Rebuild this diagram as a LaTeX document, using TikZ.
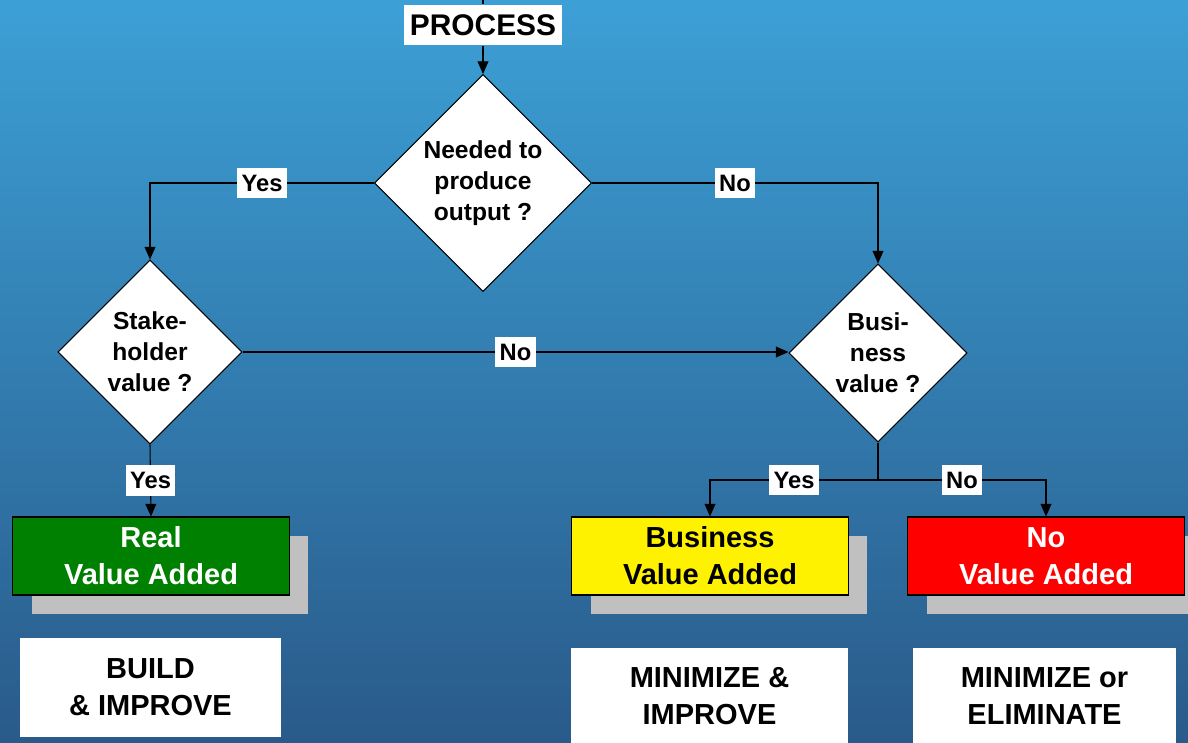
\documentclass[tikz,border=0pt]{standalone}
\usepackage{fontspec}
\setmainfont{Liberation Sans}
\usetikzlibrary{shapes.geometric,arrows.meta,shadows}
\definecolor{bgtop}{HTML}{3CA0D6}
\definecolor{bgbottom}{HTML}{295A8A}
\definecolor{shadowgray}{HTML}{C0C0C0}
\definecolor{realgreen}{HTML}{008000}

\begin{document}
\begin{tikzpicture}[x=0.02cm, y=-0.02cm, line width=0.6pt,
        >={Triangle[width=6.2pt,length=7.2pt]},
        decision/.style={diamond, aspect=1, draw=black, fill=white, inner sep=0pt, align=center,
            font=\fontsize{14}{17.6}\selectfont\bfseries},
        answer/.style={fill=white, inner xsep=2.5pt, inner ysep=0pt, minimum height=0.62cm,
            font=\fontsize{13.5}{15}\selectfont\bfseries},
        valuebox/.style={draw=black, minimum width=5.54cm, minimum height=1.56cm, align=center,
            font=\fontsize{16.5}{21}\selectfont\bfseries,
            drop shadow={fill=shadowgray, opacity=1, shadow xshift=0.38cm, shadow yshift=-0.38cm}},
        actionbox/.style={fill=white, align=center, font=\fontsize{16.5}{21}\selectfont\bfseries}]

        \useasboundingbox (0, 0) rectangle (1188, 743);
        \shade[top color=bgtop, bottom color=bgbottom] (0, 0) rectangle (1188, 743);

        \node[fill=white, minimum width=3.12cm, minimum height=0.8cm, font=\fontsize{17}{20}\selectfont\bfseries]
            (process) at (483, 25) {PROCESS};

        \node[decision, minimum size=4.34cm] (needed) at (483, 183) {Needed to\\produce\\output ?};
        \node[decision, minimum size=3.68cm] (stake) at (150, 352) {Stake-\\holder\\value ?};
        \node[decision, minimum size=3.56cm] (busi) at (878, 353) {Busi-\\ness\\value ?};

        \node[valuebox, fill=realgreen, text=white] (real) at (151, 556) {Real\\Value Added};
        \node[valuebox, fill=yellow] (bva) at (710, 556) {Business\\Value Added};
        \node[valuebox, fill=red, text=white] (nva) at (1046, 556) {No\\Value Added};

        \node[actionbox, minimum width=5.22cm, minimum height=1.98cm] (build) at (150.5, 687.5) {BUILD\\\& IMPROVE};
        \node[actionbox, minimum width=5.54cm, minimum height=1.92cm] (minimp) at (709.5, 696) {MINIMIZE \&\\IMPROVE};
        \node[actionbox, minimum width=5.26cm, minimum height=1.92cm] (minelim) at (1044.5, 696) {MINIMIZE or\\ELIMINATE};

        \coordinate (top) at (483, 0);
        \coordinate (split) at (878, 480);

        \draw (top) -- (process);
        \draw[->] (process) -- (needed);

        \draw[->] (needed.west) -| node[answer, pos=0.25] {Yes} (stake.north);
        \draw[->] (needed.east) -| node[answer, pos=0.25] {No} (busi.north);

        \draw[->] (stake.east) -- node[answer] {No} (stake.east -| busi.west);
        \draw[->] (stake.south) -- node[answer] {Yes} (real.north);

        \draw (busi.south) -- (split);
        \draw[->] (split) -| node[answer, pos=0.25] {Yes} (bva.north);
        \draw[->] (split) -| node[answer, pos=0.25] {No} (nva.north);
    \end{tikzpicture}
\end{document}
